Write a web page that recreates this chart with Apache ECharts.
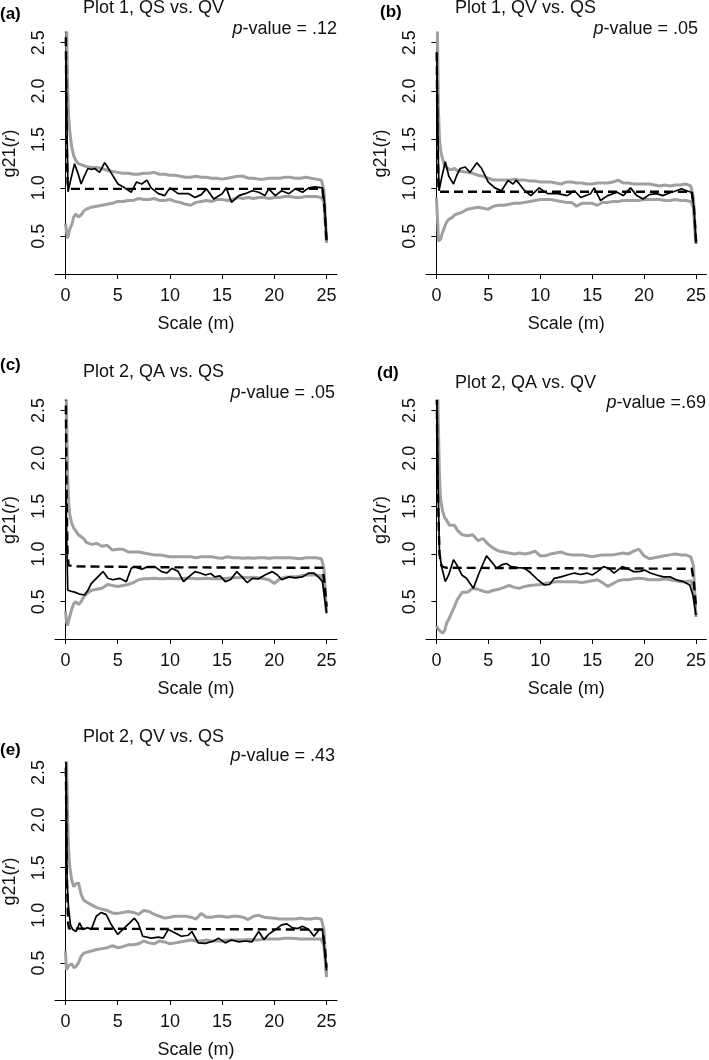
<!DOCTYPE html>
<html>
<head>
<meta charset="utf-8">
<script src="https://cdn.jsdelivr.net/npm/echarts@6/dist/echarts.min.js"></script>
<style>
html,body{margin:0;padding:0;background:#fff;}
#chart{width:709px;height:1060px;}
</style>
</head>
<body>
<div id="chart"></div>
<script>
// ---------- DATA ----------
// shared distance grid (m) for the simulation envelopes
var R = [0,0.1,0.2,0.3,0.4,0.6,0.8,1,1.25,1.5,1.75,2,2.5,3,3.5,4,4.5,5,5.5,6,6.5,7,7.5,8,8.5,9,9.5,10,10.5,11,11.5,12,12.5,13,13.5,14,14.5,15,15.5,16,16.5,17,17.5,18,18.5,19,19.5,20,20.5,21,21.5,22,22.5,23,23.5,24,24.5,24.75,25];

var xTicks = [0,5,10,15,20,25];
var yTicks = [0.5,1.0,1.5,2.0,2.5];

var panelLetters = ['(a)','(b)','(c)','(d)','(e)'];
var panelTitles = ['Plot 1, QS vs. QV','Plot 1, QV vs. QS','Plot 2, QA vs. QS','Plot 2, QA vs. QV','Plot 2, QV vs. QS'];
var pValues = [' = .12',' = .05',' = .05',' =.69',' = .43'];

// (a)
var aHi = [3.5,2.8,2.1,1.75,1.6,1.42,1.33,1.28,1.25,1.24,1.23,1.22,1.21,1.21,1.2,1.18,1.17,1.16,1.15,1.15,1.14,1.14,1.15,1.15,1.16,1.14,1.14,1.13,1.13,1.12,1.11,1.11,1.12,1.11,1.11,1.1,1.1,1.09,1.1,1.11,1.12,1.12,1.1,1.1,1.09,1.09,1.1,1.1,1.1,1.11,1.11,1.1,1.1,1.11,1.1,1.09,1.08,0.98,0.43];
var aLo = [0.63,0.55,0.48,0.52,0.57,0.62,0.7,0.73,0.7,0.72,0.76,0.78,0.8,0.81,0.82,0.83,0.84,0.86,0.86,0.87,0.87,0.89,0.88,0.88,0.89,0.87,0.87,0.88,0.86,0.85,0.83,0.82,0.85,0.86,0.87,0.86,0.88,0.88,0.87,0.88,0.9,0.89,0.9,0.89,0.9,0.9,0.89,0.9,0.9,0.91,0.91,0.9,0.9,0.91,0.91,0.91,0.9,0.85,0.43];
var aObsR = [0.05,0.15,0.25,0.3,0.5,0.87,1.2,1.5,1.8,2.15,2.5,2.8,3.27,3.75,4.0,4.4,5.03,5.67,6.3,6.8,7.3,7.8,8.2,8.9,9.5,10.0,10.8,11.8,12.4,13.0,13.5,14.2,15.0,15.4,15.9,16.6,17.2,17.9,18.5,19.1,19.45,20.1,20.7,21.4,22.0,22.7,23.3,23.9,24.6,24.8,25];
var aObs = [2.34,1.6,0.96,0.95,1.08,1.25,1.15,1.04,1.12,1.2,1.19,1.2,1.16,1.26,1.22,1.15,1.04,1.0,0.955,1.06,1.04,1.08,1.0,0.94,0.92,1.0,0.94,0.94,0.9,0.93,0.99,0.885,0.94,1.0,0.85,0.92,0.94,0.97,0.955,0.92,0.99,0.92,0.97,0.94,0.99,0.955,1.0,1.01,1.0,0.85,0.48];
var aTheoR = [0.03,0.1,0.2,0.3,24.6,24.8,25];
var aTheo = [2.7,1.6,1.05,0.99,0.99,0.8,0.45];

// (b)
var bHi = [3.5,2.6,1.8,1.5,1.39,1.3,1.23,1.21,1.19,1.19,1.2,1.18,1.17,1.16,1.15,1.13,1.12,1.1,1.08,1.08,1.08,1.08,1.09,1.08,1.08,1.07,1.07,1.06,1.06,1.06,1.05,1.04,1.06,1.06,1.05,1.05,1.04,1.04,1.05,1.05,1.05,1.06,1.08,1.05,1.05,1.04,1.04,1.04,1.04,1.03,1.02,1.03,1.02,1.03,1.03,1.04,1.02,0.9,0.42];
var bLo = [0.9,0.7,0.45,0.44,0.47,0.54,0.6,0.65,0.68,0.69,0.72,0.73,0.75,0.78,0.79,0.8,0.79,0.78,0.81,0.82,0.82,0.83,0.84,0.84,0.85,0.86,0.87,0.88,0.88,0.88,0.87,0.86,0.85,0.85,0.81,0.84,0.84,0.84,0.82,0.85,0.85,0.86,0.86,0.87,0.87,0.87,0.87,0.88,0.88,0.88,0.88,0.87,0.87,0.88,0.87,0.87,0.86,0.8,0.42];
var bObsR = [0.05,0.15,0.25,0.32,0.5,0.86,1.2,1.65,2.0,2.3,2.77,3.24,3.9,4.36,5.0,5.63,6.27,6.9,7.38,7.7,8.5,9.1,9.9,10.7,11.7,12.6,13.3,13.9,14.85,15.2,15.8,16.5,17.4,18.0,18.7,19.3,19.9,20.5,21.2,21.8,22.5,23.1,23.6,24.1,24.55,24.8,25];
var bObs = [2.34,1.5,0.97,0.96,1.1,1.27,1.12,1.04,1.14,1.2,1.215,1.16,1.26,1.2,1.06,1.0,0.97,1.076,1.04,1.08,0.97,0.92,1.0,0.94,0.94,0.92,0.97,0.9,0.94,1.0,0.87,0.92,0.955,0.92,1.0,0.92,0.885,0.93,0.94,0.92,0.95,0.97,0.99,0.97,0.955,0.8,0.43];
var bTheoR = [0.03,0.1,0.2,0.3,24.6,24.8,25];
var bTheo = [2.4,1.6,1.0,0.96,0.96,0.8,0.45];

// (c)
var cHi = [3.5,2.5,1.85,1.55,1.42,1.32,1.27,1.24,1.2,1.18,1.16,1.12,1.1,1.11,1.08,1.09,1.04,1.05,1.05,1.02,1.02,1.02,1.01,1.0,0.99,0.99,0.98,0.97,0.97,0.97,0.97,0.97,0.96,0.97,0.97,0.97,0.96,0.955,0.97,0.96,0.96,0.955,0.96,0.955,0.96,0.96,0.955,0.96,0.96,0.96,0.96,0.955,0.95,0.96,0.96,0.96,0.95,0.85,0.38];
var cLo = [0.4,0.3,0.25,0.3,0.34,0.42,0.48,0.5,0.47,0.5,0.55,0.58,0.62,0.63,0.64,0.68,0.67,0.66,0.67,0.68,0.7,0.73,0.74,0.74,0.745,0.74,0.74,0.745,0.74,0.74,0.745,0.745,0.74,0.74,0.745,0.74,0.74,0.74,0.745,0.75,0.75,0.755,0.75,0.755,0.75,0.74,0.73,0.69,0.74,0.755,0.76,0.76,0.77,0.78,0.78,0.78,0.77,0.7,0.38];
var cObsR = [0.05,0.15,0.22,0.54,0.87,1.35,1.83,2.15,2.47,3.1,3.6,4.07,4.55,5.2,5.83,6.3,6.6,7.3,7.9,8.56,9.2,9.7,10.2,10.8,11.3,11.8,12.4,12.9,13.4,13.9,14.3,14.8,15.3,15.8,16.4,16.9,17.4,17.9,18.5,19.1,19.8,20.3,20.7,21.4,22.0,22.7,23.3,23.8,24.3,24.6,25];
var cObs = [1.63,1.0,0.62,0.61,0.6,0.58,0.57,0.62,0.69,0.76,0.815,0.745,0.73,0.745,0.71,0.85,0.867,0.84,0.867,0.867,0.815,0.8,0.85,0.815,0.71,0.76,0.815,0.8,0.78,0.795,0.76,0.77,0.71,0.73,0.815,0.76,0.7,0.745,0.74,0.78,0.815,0.78,0.73,0.76,0.75,0.76,0.8,0.8,0.75,0.71,0.38];
var cTheoR = [0.03,0.1,0.2,0.3,1,10,24.6,24.8,25];
var cTheo = [2.7,1.7,1.0,0.88,0.87,0.86,0.855,0.7,0.45];

// (d)
var dHi = [3.5,2.9,2.3,1.8,1.57,1.45,1.38,1.35,1.3,1.3,1.3,1.25,1.2,1.19,1.2,1.14,1.16,1.1,1.06,1.03,1.02,1.01,1.0,1.01,1.0,1.01,1.03,0.98,0.98,1.0,1.01,1.02,1.0,0.99,0.99,0.99,0.98,0.97,0.98,0.99,0.99,0.99,1.0,1.01,1.0,1.03,1.05,0.98,0.95,0.96,0.97,0.98,0.99,1.0,0.99,0.99,0.97,0.88,0.34];
var dLo = [0.25,0.23,0.21,0.2,0.19,0.17,0.2,0.28,0.33,0.39,0.45,0.52,0.6,0.6,0.64,0.63,0.61,0.6,0.62,0.63,0.65,0.67,0.65,0.64,0.66,0.67,0.675,0.68,0.69,0.7,0.71,0.71,0.71,0.71,0.71,0.7,0.71,0.72,0.73,0.7,0.66,0.69,0.72,0.73,0.73,0.74,0.745,0.74,0.73,0.73,0.73,0.74,0.73,0.72,0.71,0.71,0.72,0.65,0.36];
var dObsR = [0.05,0.15,0.3,0.54,0.86,1.18,1.65,1.97,2.45,2.9,3.56,4.04,4.5,4.83,5.3,5.8,6.27,6.74,7.2,7.86,8.5,9.1,9.76,10.4,10.9,11.35,12.0,12.6,13.3,13.9,14.5,15.0,15.5,16.1,16.6,17.1,17.9,18.35,19.0,19.5,20.1,20.6,21.2,21.85,22.5,23.1,23.8,24.4,24.7,25];
var dObs = [2.7,1.8,1.0,0.85,0.71,0.78,0.94,0.885,0.78,0.745,0.64,0.78,0.9,0.98,0.92,0.85,0.885,0.9,0.867,0.857,0.85,0.8,0.73,0.675,0.68,0.745,0.76,0.78,0.8,0.785,0.8,0.78,0.815,0.867,0.85,0.8,0.867,0.85,0.815,0.815,0.83,0.8,0.78,0.76,0.76,0.73,0.71,0.675,0.57,0.36];
var dTheoR = [0.03,0.1,0.3,0.5,1,24.6,24.8,25];
var dTheo = [2.8,1.8,1.0,0.87,0.855,0.845,0.7,0.45];

// (e)
var eHi = [3.5,2.7,2.05,1.7,1.52,1.37,1.3,1.33,1.34,1.22,1.16,1.14,1.11,1.08,1.065,1.05,1.025,1.02,1.03,1.04,1.03,1.01,1.05,1.04,1.01,0.99,0.97,0.98,0.99,0.99,0.99,0.98,0.96,1.02,0.98,0.98,0.99,0.99,0.98,0.99,0.99,0.98,0.955,0.99,1.0,0.98,0.975,0.97,0.96,0.96,0.96,0.96,0.97,0.96,0.96,0.97,0.96,0.85,0.35];
var eLo = [0.62,0.43,0.42,0.47,0.49,0.49,0.45,0.46,0.5,0.57,0.6,0.61,0.625,0.64,0.65,0.66,0.68,0.66,0.67,0.69,0.69,0.7,0.73,0.71,0.7,0.73,0.72,0.7,0.71,0.72,0.73,0.74,0.73,0.73,0.74,0.73,0.73,0.73,0.74,0.74,0.74,0.74,0.745,0.74,0.74,0.75,0.75,0.75,0.75,0.76,0.76,0.755,0.75,0.75,0.75,0.75,0.75,0.68,0.35];
var eObsR = [0.05,0.16,0.29,0.48,0.7,1.03,1.35,1.67,2.15,2.47,2.95,3.43,3.9,4.4,5.0,5.67,6.15,6.6,6.95,7.4,8.2,8.9,9.36,9.84,10.5,11.1,11.76,12.1,12.7,13.4,14.2,14.65,15.3,15.9,16.6,17.2,17.85,18.5,19.0,19.45,20.1,20.7,21.2,21.7,22.2,22.7,23.3,23.8,24.3,24.6,25];
var eObs = [2.7,1.34,1.09,0.9,0.85,0.83,0.92,0.85,0.87,0.85,0.99,1.03,1.007,0.9,0.8,0.87,0.92,0.97,0.92,0.78,0.76,0.77,0.76,0.85,0.815,0.78,0.79,0.83,0.71,0.705,0.73,0.76,0.71,0.74,0.72,0.73,0.72,0.83,0.745,0.8,0.85,0.9,0.91,0.87,0.86,0.885,0.85,0.78,0.85,0.85,0.42];
var eTheoR = [0.03,0.12,0.25,0.35,24.6,24.8,25];
var eTheo = [2.7,1.5,0.92,0.86,0.85,0.7,0.45];

// ---------- BUILD ----------
var FONT = "'Liberation Sans', Arial, sans-serif";
function zip(xs, ys){ return xs.map(function(x,i){ return [x, ys[i]]; }); }

var panels = [
  {hi:aHi, lo:aLo, obsR:aObsR, obs:aObs, thR:aTheoR, th:aTheo},
  {hi:bHi, lo:bLo, obsR:bObsR, obs:bObs, thR:bTheoR, th:bTheo},
  {hi:cHi, lo:cLo, obsR:cObsR, obs:cObs, thR:cTheoR, th:cTheo},
  {hi:dHi, lo:dLo, obsR:dObsR, obs:dObs, thR:dTheoR, th:dTheo},
  {hi:eHi, lo:eLo, obsR:eObsR, obs:eObs, thR:eTheoR, th:eTheo}
];

// layout (pixels)
var grids = [
  {left:55,  top:33,  width:282, height:241},
  {left:426, top:33,  width:283, height:241},
  {left:55,  top:401, width:282, height:238},
  {left:426, top:401, width:283, height:238},
  {left:55,  top:763, width:282, height:239}
];
var letterPos = [[0,14],[380,12],[0,365],[377,373],[0,750]];
var titlePos  = [[83,8],[455,8],[83,372],[455,383],[83,737]];
var pPos      = [[337,29],[698,29],[335,393],[706,403],[335,756]];

var grayColor = '#a0a0a0';
var axisColor = '#000';

var xAxes = [], yAxes = [], series = [], graphics = [];
grids.forEach(function(g, i){
  xAxes.push({
    gridIndex:i, type:'value', min:-1, max:26,
    name:'Scale (m)', nameLocation:'middle', nameGap:41,
    nameTextStyle:{fontSize:18, fontFamily:FONT, color:'#111'},
    axisLine:{show:true, lineStyle:{color:axisColor, width:1}},
    axisTick:{show:true, length:5, customValues:xTicks, lineStyle:{color:axisColor}},
    axisLabel:{customValues:xTicks, fontSize:18, fontFamily:FONT, color:'#111', margin:13},
    splitLine:{show:false}
  });
  yAxes.push({
    gridIndex:i, type:'value', min:0.11, max:2.6,
    name:'g21({i|r})', nameLocation:'middle', nameGap:36, nameRotate:90,
    nameTextStyle:{fontSize:18, fontFamily:FONT, color:'#111',
      rich:{i:{fontSize:18, fontFamily:FONT, fontStyle:'italic', color:'#111'}}},
    axisLine:{show:true, lineStyle:{color:axisColor, width:1}},
    axisTick:{show:true, length:5, customValues:yTicks, lineStyle:{color:axisColor}},
    axisLabel:{customValues:yTicks, rotate:90, fontSize:18, fontFamily:FONT, color:'#111', margin:7,
      formatter:function(v){ return Number(v).toFixed(1); }},
    splitLine:{show:false}
  });
  var p = panels[i];
  var common = {xAxisIndex:i, yAxisIndex:i, type:'line', symbol:'none', silent:true, animation:false, clip:true};
  series.push(Object.assign({}, common, {data:zip(R, p.hi), lineStyle:{color:grayColor, width:3}}));
  series.push(Object.assign({}, common, {data:zip(R, p.lo), lineStyle:{color:grayColor, width:3}}));
  series.push(Object.assign({}, common, {data:zip(p.thR, p.th), lineStyle:{color:'#000', width:2.4, type:[9,5]}}));
  series.push(Object.assign({}, common, {data:zip(p.obsR, p.obs), lineStyle:{color:'#000', width:1.7}}));

  graphics.push({type:'text', x:letterPos[i][0], y:letterPos[i][1], silent:true,
    style:{text:panelLetters[i], font:'bold 17px ' + FONT, fill:'#000', align:'left', verticalAlign:'middle'}});
  graphics.push({type:'text', x:titlePos[i][0], y:titlePos[i][1], silent:true,
    style:{text:panelTitles[i], font:'18px ' + FONT, fill:'#111', align:'left', verticalAlign:'middle'}});
  graphics.push({type:'text', x:pPos[i][0], y:pPos[i][1], silent:true,
    style:{text:'{i|p}-value' + pValues[i], font:'18px ' + FONT, fontSize:18, fontFamily:FONT, fill:'#111', align:'right', verticalAlign:'middle',
      rich:{i:{fontSize:18, fontFamily:FONT, fontStyle:'italic', fill:'#111'}}}});
});

var chart = echarts.init(document.getElementById('chart'), null, {renderer:'canvas'});
chart.setOption({
  backgroundColor:'#fff',
  animation:false,
  grid:grids.map(function(g){ return Object.assign({containLabel:false}, g); }),
  xAxis:xAxes,
  yAxis:yAxes,
  series:series,
  graphic:graphics
});
</script>
</body>
</html>
